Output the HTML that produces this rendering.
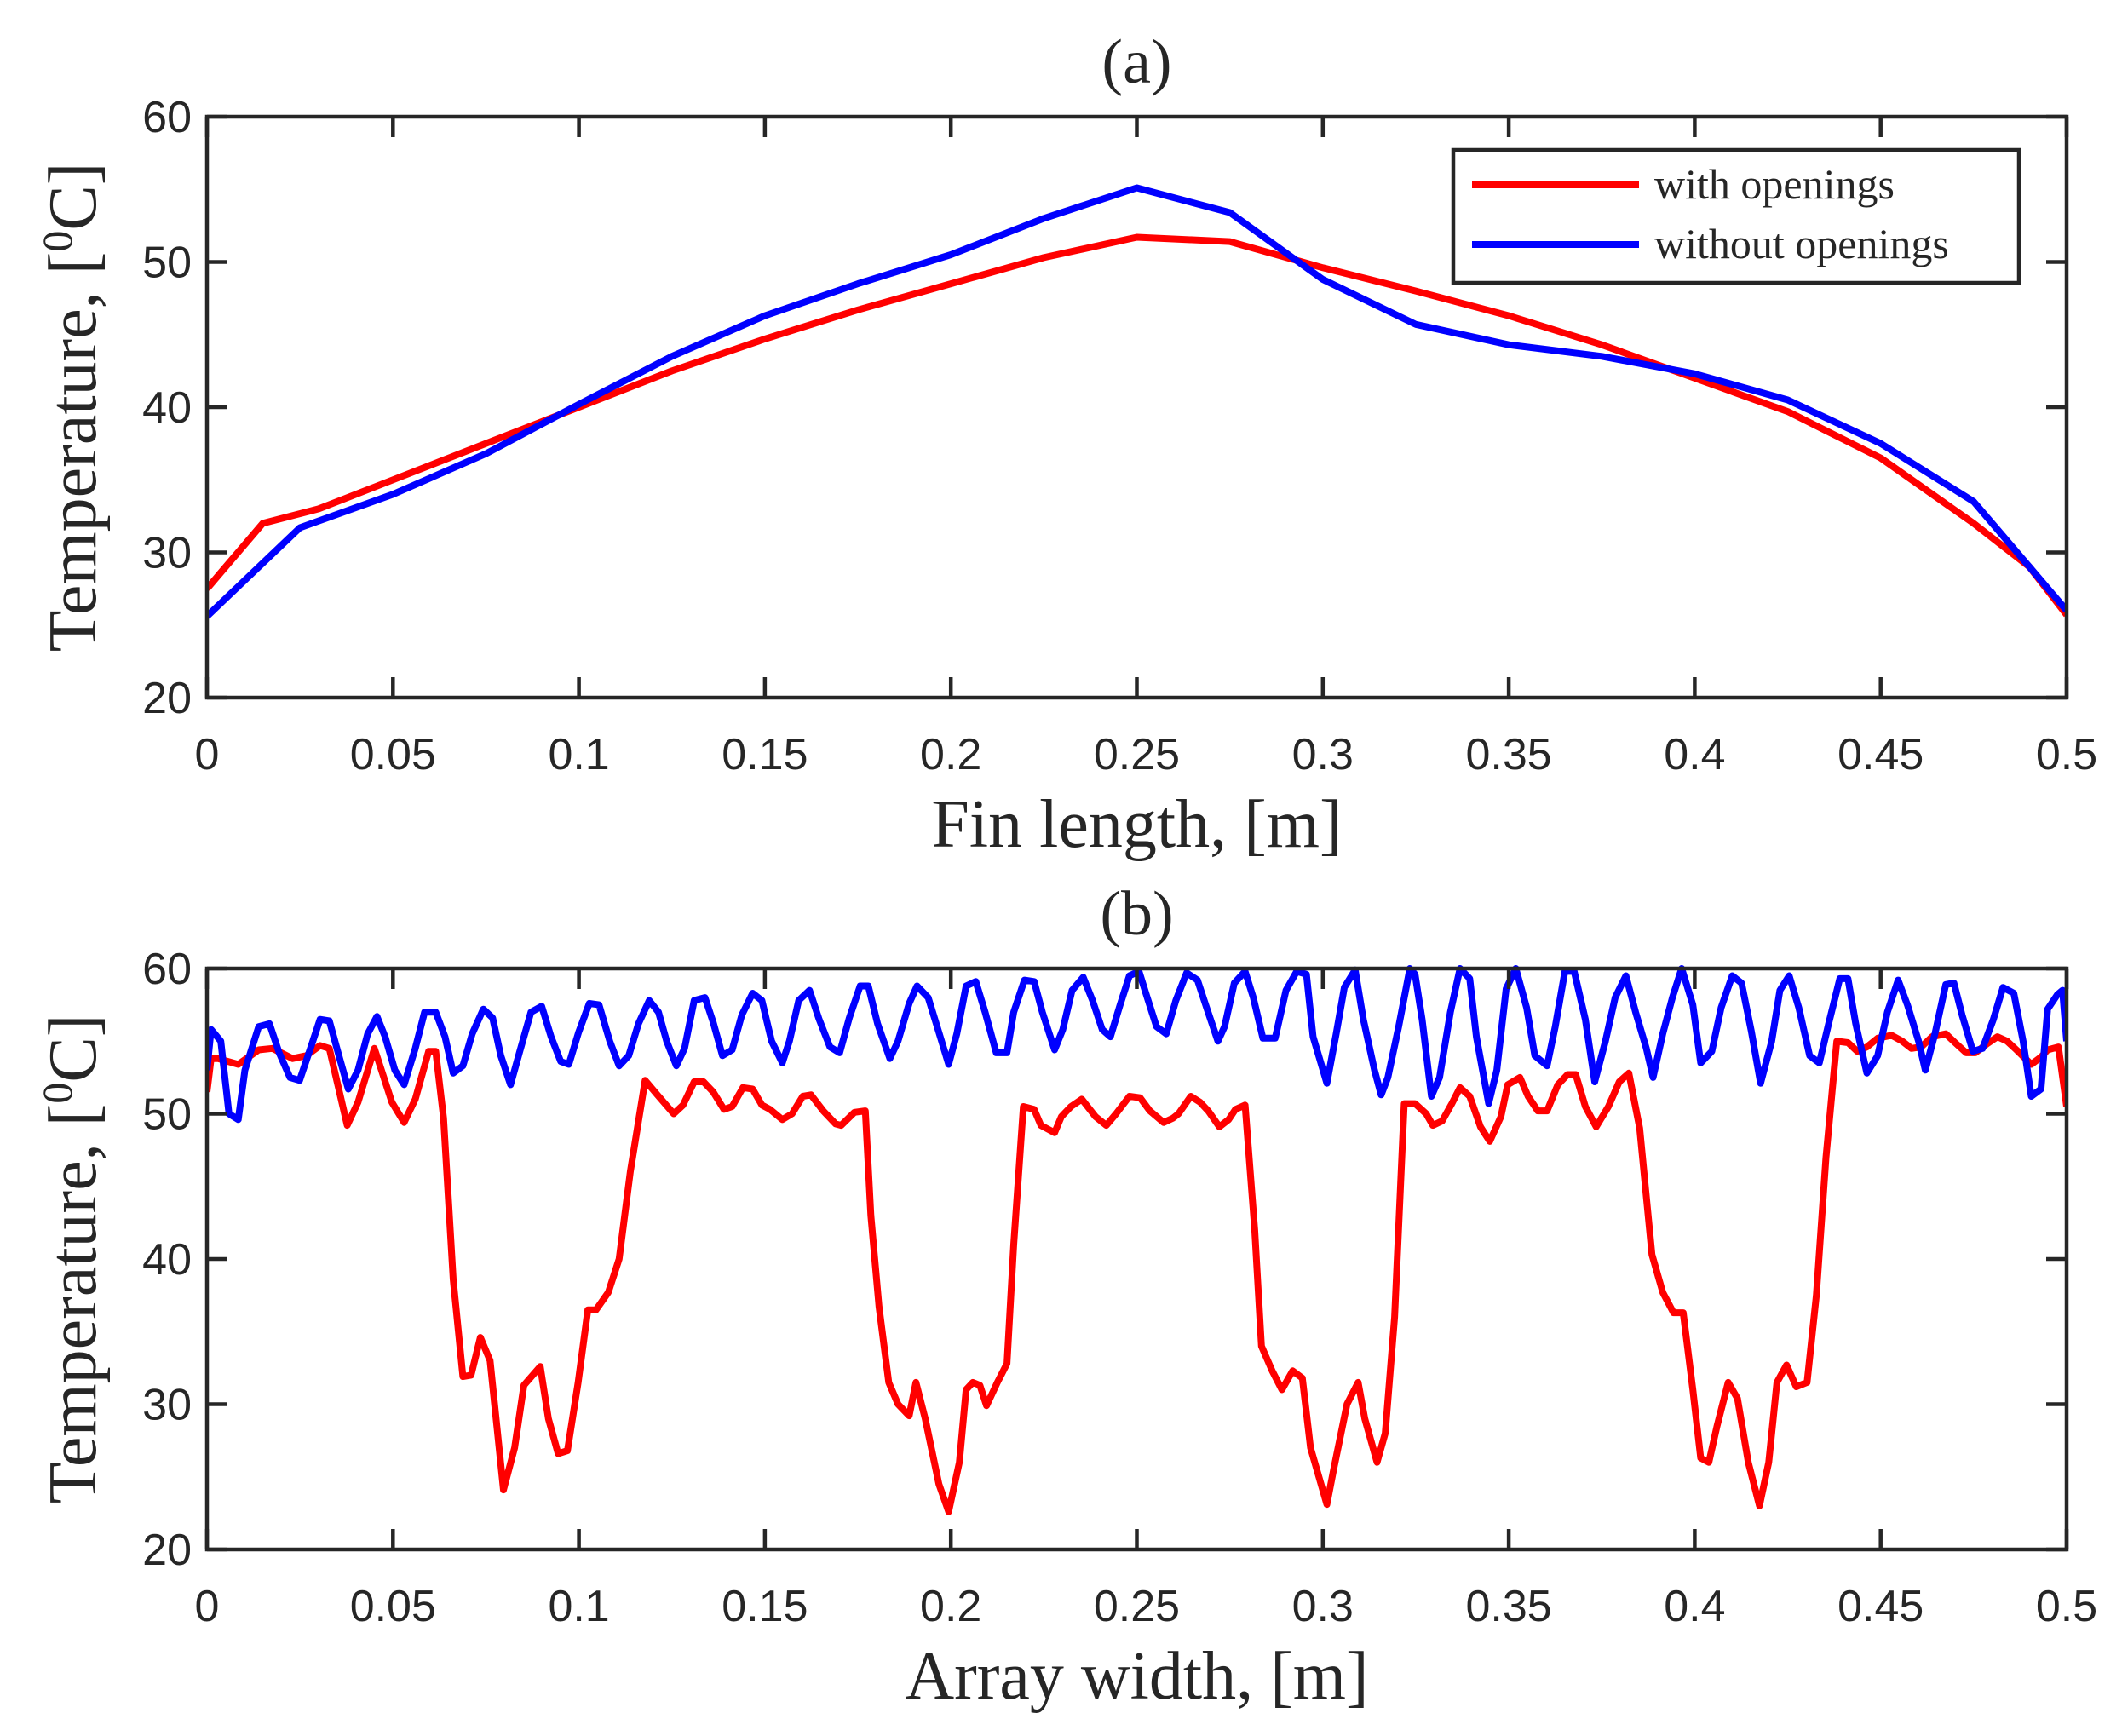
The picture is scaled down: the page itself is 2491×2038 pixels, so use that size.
<!DOCTYPE html>
<html><head><meta charset="utf-8"><style>
html,body{margin:0;padding:0;background:#fff;}
svg{display:block;}
text{font-family:"Liberation Serif",serif;fill:#262626;}
.tick{font-family:"Liberation Sans",sans-serif;font-size:52px;}
</style></head><body>
<svg id="chart" width="2491" height="2038" viewBox="0 0 2491 2038" xmlns="http://www.w3.org/2000/svg"></svg>
<script>
const xTicks=[0,0.05,0.1,0.15,0.2,0.25,0.3,0.35,0.4,0.45,0.5];
const xTickLabels=["0","0.05","0.1","0.15","0.2","0.25","0.3","0.35","0.4","0.45","0.5"];
const yTicks=[20,30,40,50,60];
const yTickLabels=["20","30","40","50","60"];
const seriesNames=["with openings","without openings"];
// Panel (a)
const aRedX=[0,0.015,0.03,0.05,0.075,0.1,0.125,0.15,0.175,0.2,0.225,0.25,0.275,0.3,0.325,0.35,0.375,0.4,0.425,0.45,0.475,0.49,0.5];
const aRedY=[27.5,32,33,35,37.5,40,42.5,44.7,46.7,48.5,50.3,51.7,51.4,49.6,48,46.3,44.3,42,39.7,36.5,32,29,25.7];
const aBlueX=[0,0.025,0.05,0.075,0.1,0.125,0.15,0.175,0.2,0.225,0.25,0.275,0.3,0.325,0.35,0.375,0.4,0.425,0.45,0.475,0.49,0.5];
const aBlueY=[25.6,31.7,34,36.8,40.2,43.5,46.3,48.5,50.5,53,55.1,53.4,48.8,45.7,44.3,43.5,42.3,40.5,37.5,33.5,29,26];
// Panel (b)
const bRedX=[0,0.0011,0.0029,0.0084,0.0139,0.0176,0.0230,0.0267,0.0304,0.0329,0.0377,0.0406,0.0450,0.0497,0.0530,0.0560,0.0596,0.0615,0.0636,0.0662,0.0688,0.0710,0.0735,0.0761,0.0797,0.0827,0.0852,0.0896,0.0918,0.0944,0.0969,0.0998,0.1024,0.1046,0.1079,0.1108,0.1138,0.1178,0.1211,0.1255,0.1280,0.1310,0.1335,0.1361,0.1390,0.1412,0.1441,0.1467,0.1492,0.1514,0.1547,0.1573,0.1602,0.1624,0.1657,0.1690,0.1705,0.1741,0.1770,0.1785,0.1807,0.1833,0.1858,0.1888,0.1906,0.1931,0.1968,0.1994,0.2023,0.2041,0.2059,0.2078,0.2096,0.2125,0.2151,0.2169,0.2195,0.2224,0.2242,0.2279,0.2297,0.2323,0.2352,0.2389,0.2418,0.2444,0.2480,0.2509,0.2535,0.2572,0.2597,0.2612,0.2645,0.2670,0.2692,0.2722,0.2747,0.2765,0.2791,0.2817,0.2835,0.2864,0.2890,0.2919,0.2945,0.2967,0.3011,0.3029,0.3065,0.3095,0.3113,0.3146,0.3168,0.3193,0.3219,0.3248,0.3278,0.3296,0.3321,0.3347,0.3369,0.3395,0.3424,0.3449,0.3479,0.3497,0.3530,0.3552,0.3578,0.3603,0.3632,0.3658,0.3680,0.3706,0.3735,0.3768,0.3797,0.3823,0.3852,0.3885,0.3914,0.3943,0.3969,0.3995,0.4016,0.4038,0.4060,0.4090,0.4115,0.4144,0.4174,0.4199,0.4221,0.4247,0.4273,0.4302,0.4327,0.4353,0.4382,0.4412,0.4437,0.4463,0.4492,0.4529,0.4558,0.4583,0.4609,0.4638,0.4675,0.4700,0.4730,0.4755,0.4785,0.4814,0.4840,0.4865,0.4905,0.4931,0.4949,0.4978,0.5];
const bRedY=[51.5,53.8,53.8,53.4,54.4,54.5,53.8,54,54.7,54.5,49.2,50.8,54.5,50.8,49.4,51,54.3,54.3,49.7,38.6,31.9,32,34.6,33,24.1,27,31.3,32.6,29,26.6,26.8,31.5,36.5,36.5,37.7,40,46,52.3,51.3,50,50.6,52.2,52.2,51.5,50.3,50.5,51.8,51.7,50.6,50.3,49.6,50,51.2,51.3,50.2,49.3,49.2,50.1,50.2,43,36.7,31.5,30,29.2,31.5,29,24.5,22.6,26,31,31.5,31.3,29.9,31.5,32.8,41,50.5,50.3,49.2,48.7,49.8,50.5,51,49.8,49.2,50,51.2,51.1,50.2,49.4,49.7,50,51.2,50.8,50.2,49.1,49.6,50.3,50.6,42,34,32.3,31,32.3,31.8,27,23.1,25.5,30,31.5,29,26,28,36,50.7,50.7,50,49.2,49.5,50.7,51.8,51.2,49.1,48.1,49.8,52,52.5,51.2,50.2,50.2,52,52.7,52.7,50.5,49.1,50.5,52.2,52.8,49,40.3,37.7,36.3,36.3,31,26.3,26,28.5,31.5,30.4,26,23,26,31.5,32.7,31.2,31.5,37.5,47,55,54.9,54.3,54.6,55.2,55.4,55,54.5,54.6,55.3,55.5,54.9,54.2,54.2,54.8,55.3,55,54.4,53.4,53.9,54.4,54.6,50.5];
const bBlueX=[0,0.0011,0.0037,0.0059,0.0084,0.0102,0.0139,0.0168,0.0194,0.0223,0.0249,0.0278,0.0304,0.0329,0.0358,0.0380,0.0406,0.0432,0.0457,0.0479,0.0505,0.0530,0.0560,0.0585,0.0615,0.0640,0.0662,0.0688,0.0713,0.0743,0.0768,0.0790,0.0816,0.0841,0.0871,0.0900,0.0925,0.0951,0.0973,0.0999,0.1028,0.1054,0.1083,0.1108,0.1134,0.1160,0.1189,0.1214,0.1236,0.1262,0.1284,0.1310,0.1339,0.1361,0.1386,0.1412,0.1438,0.1467,0.1492,0.1518,0.1547,0.1566,0.1591,0.1620,0.1646,0.1675,0.1701,0.1727,0.1756,0.1778,0.1803,0.1836,0.1858,0.1888,0.1909,0.1939,0.1968,0.1994,0.2016,0.2041,0.2067,0.2092,0.2122,0.2151,0.2169,0.2198,0.2224,0.2246,0.2279,0.2301,0.2326,0.2356,0.2381,0.2407,0.2429,0.2455,0.2480,0.2506,0.2528,0.2553,0.2579,0.2605,0.2634,0.2663,0.2689,0.2718,0.2736,0.2762,0.2791,0.2813,0.2839,0.2872,0.2901,0.2930,0.2956,0.2974,0.3011,0.3036,0.3058,0.3087,0.3109,0.3139,0.3157,0.3175,0.3204,0.3234,0.3248,0.3267,0.3292,0.3314,0.3343,0.3369,0.3395,0.3413,0.3446,0.3468,0.3493,0.3519,0.3548,0.3570,0.3603,0.3625,0.3651,0.3676,0.3706,0.3731,0.3760,0.3786,0.3815,0.3841,0.3870,0.3888,0.3914,0.3940,0.3965,0.3995,0.4016,0.4046,0.4071,0.4101,0.4126,0.4152,0.4177,0.4207,0.4229,0.4254,0.4280,0.4309,0.4335,0.4360,0.4390,0.4412,0.4433,0.4463,0.4492,0.4518,0.4547,0.4572,0.4602,0.4620,0.4646,0.4675,0.4697,0.4719,0.4748,0.4774,0.4803,0.4829,0.4858,0.4883,0.4905,0.4931,0.4949,0.4975,0.4989,0.5];
const bBlueY=[53,55.8,55,50,49.6,53,56,56.2,54.2,52.5,52.3,54.5,56.5,56.4,53.7,51.7,53,55.5,56.7,55.3,53,52,54.5,57,57,55.3,52.8,53.3,55.5,57.2,56.6,54,52,54.3,57,57.4,55.3,53.6,53.4,55.6,57.6,57.5,55,53.3,54,56.2,57.8,57,55,53.3,54.5,57.8,58,56.3,54,54.4,56.8,58.3,57.8,55,53.5,55,57.8,58.5,56.5,54.6,54.2,56.6,58.8,58.8,56.2,53.8,55,57.6,58.8,58,55.6,53.4,55.5,58.8,59.1,57,54.2,54.2,57,59.2,59.1,57,54.4,55.8,58.5,59.4,57.8,55.8,55.3,57.5,59.5,59.8,58,56,55.5,57.8,59.7,59.2,57.2,55,56,59,59.8,58,55.2,55.2,58.5,59.8,59.6,55.3,52.1,55.5,58.7,59.9,56.5,53,51.3,52.5,56,60,59.6,56.5,51.2,52.5,57,60,59.3,55.3,50.7,53,58.6,60,57.3,54,53.3,56,59.8,59.8,56.5,52.2,55,58,59.5,57,54.5,52.5,55.5,58,60,57.5,53.5,54.3,57.3,59.5,59,55.7,52.1,55,58.5,59.5,57.3,54,53.5,56.2,59.3,59.3,56.2,52.8,54,57,59.2,57.5,55,53,55.5,58.9,59,56.8,54.3,54.5,56.5,58.7,58.3,55,51.2,51.7,57.2,58.2,58.5,55];

const NS="http://www.w3.org/2000/svg";
const svg=document.getElementById('chart');
function el(tag,attrs,parent){const e=document.createElementNS(NS,tag);for(const k in attrs)e.setAttribute(k,attrs[k]);(parent||svg).appendChild(e);return e;}
const L=243,R=2426;
function panel(top,bottom,title,xlabel,redX,redY,blueX,blueY,legend,key){
  const g=el('g',{});
  
  
  const sx=v=>L+(v-0)/(0.5-0)*(R-L);
  const sy=v=>bottom-(v-20)/(60-20)*(bottom-top);
  const clipId='clip'+key;
  const cp=el('clipPath',{id:clipId},g);el('rect',{x:L,y:top-5,width:R-L,height:bottom-top+10},cp);
  const mk=(xs,ys,color,name)=>{
    const p=el('polyline',{points:xs.map((x,i)=>sx(x).toFixed(1)+','+sy(ys[i]).toFixed(1)).join(' '),fill:'none',stroke:color,'stroke-width':8,'stroke-linejoin':'round','clip-path':'url(#'+clipId+')'},g);
    
    
  };
  mk(redX,redY,'#ff0000','series-with-openings-'+key);
  mk(blueX,blueY,'#0000ff','series-without-openings-'+key);
  const frame=el('rect',{x:L,y:top,width:R-L,height:bottom-top,fill:'none',stroke:'#262626','stroke-width':4.5},g);
  
  
  xTicks.forEach((v,i)=>{
    const x=sx(v);
    el('line',{x1:x,y1:bottom,x2:x,y2:bottom-24,stroke:'#262626','stroke-width':4.5},g);
    el('line',{x1:x,y1:top,x2:x,y2:top+24,stroke:'#262626','stroke-width':4.5},g);
    const t=el('text',{x:x,y:bottom+84,'text-anchor':'middle',class:'tick'},g);
    t.textContent=xTickLabels[i];
    
    
  });
  yTicks.forEach((v,i)=>{
    const y=sy(v);
    el('line',{x1:L,y1:y,x2:L+24,y2:y,stroke:'#262626','stroke-width':4.5},g);
    el('line',{x1:R,y1:y,x2:R-24,y2:y,stroke:'#262626','stroke-width':4.5},g);
    const t=el('text',{x:L-18,y:y+18,'text-anchor':'end',class:'tick'},g);
    t.textContent=yTickLabels[i];
    
    
  });
  const tt=el('text',{x:(L+R)/2,y:top-40,'text-anchor':'middle','font-size':74},g);
  tt.textContent=title;
  
  
  const xl=el('text',{x:(L+R)/2,y:bottom+175,'text-anchor':'middle','font-size':80},g);
  xl.textContent=xlabel;
  
  
  const cy=(top+bottom)/2;
  const yl=el('text',{x:0,y:0,'text-anchor':'middle','font-size':80,transform:'translate(112,'+cy+') rotate(-90)'},g);
  yl.innerHTML='Temperature, [<tspan font-size="50" dy="-28">0</tspan><tspan dy="28">C]</tspan>';
  
  
  if(legend){
    const lg=el('g',{},g);
    
    
    el('rect',{x:1706,y:176,width:664,height:156,fill:'#fff',stroke:'#262626','stroke-width':4.5},lg);
    [['#ff0000',217],['#0000ff',287]].forEach((c,i)=>{
      el('line',{x1:1728,y1:c[1],x2:1924,y2:c[1],stroke:c[0],'stroke-width':8},lg);
      const t=el('text',{x:1942,y:c[1]+16,'font-size':50},lg);
      t.textContent=seriesNames[i];
      
      
    });
  }
}
panel(137,819,'(a)','Fin length, [m]',aRedX,aRedY,aBlueX,aBlueY,true,'a');
panel(1137,1819,'(b)','Array width, [m]',bRedX,bRedY,bBlueX,bBlueY,false,'b');
</script>
</body></html>
